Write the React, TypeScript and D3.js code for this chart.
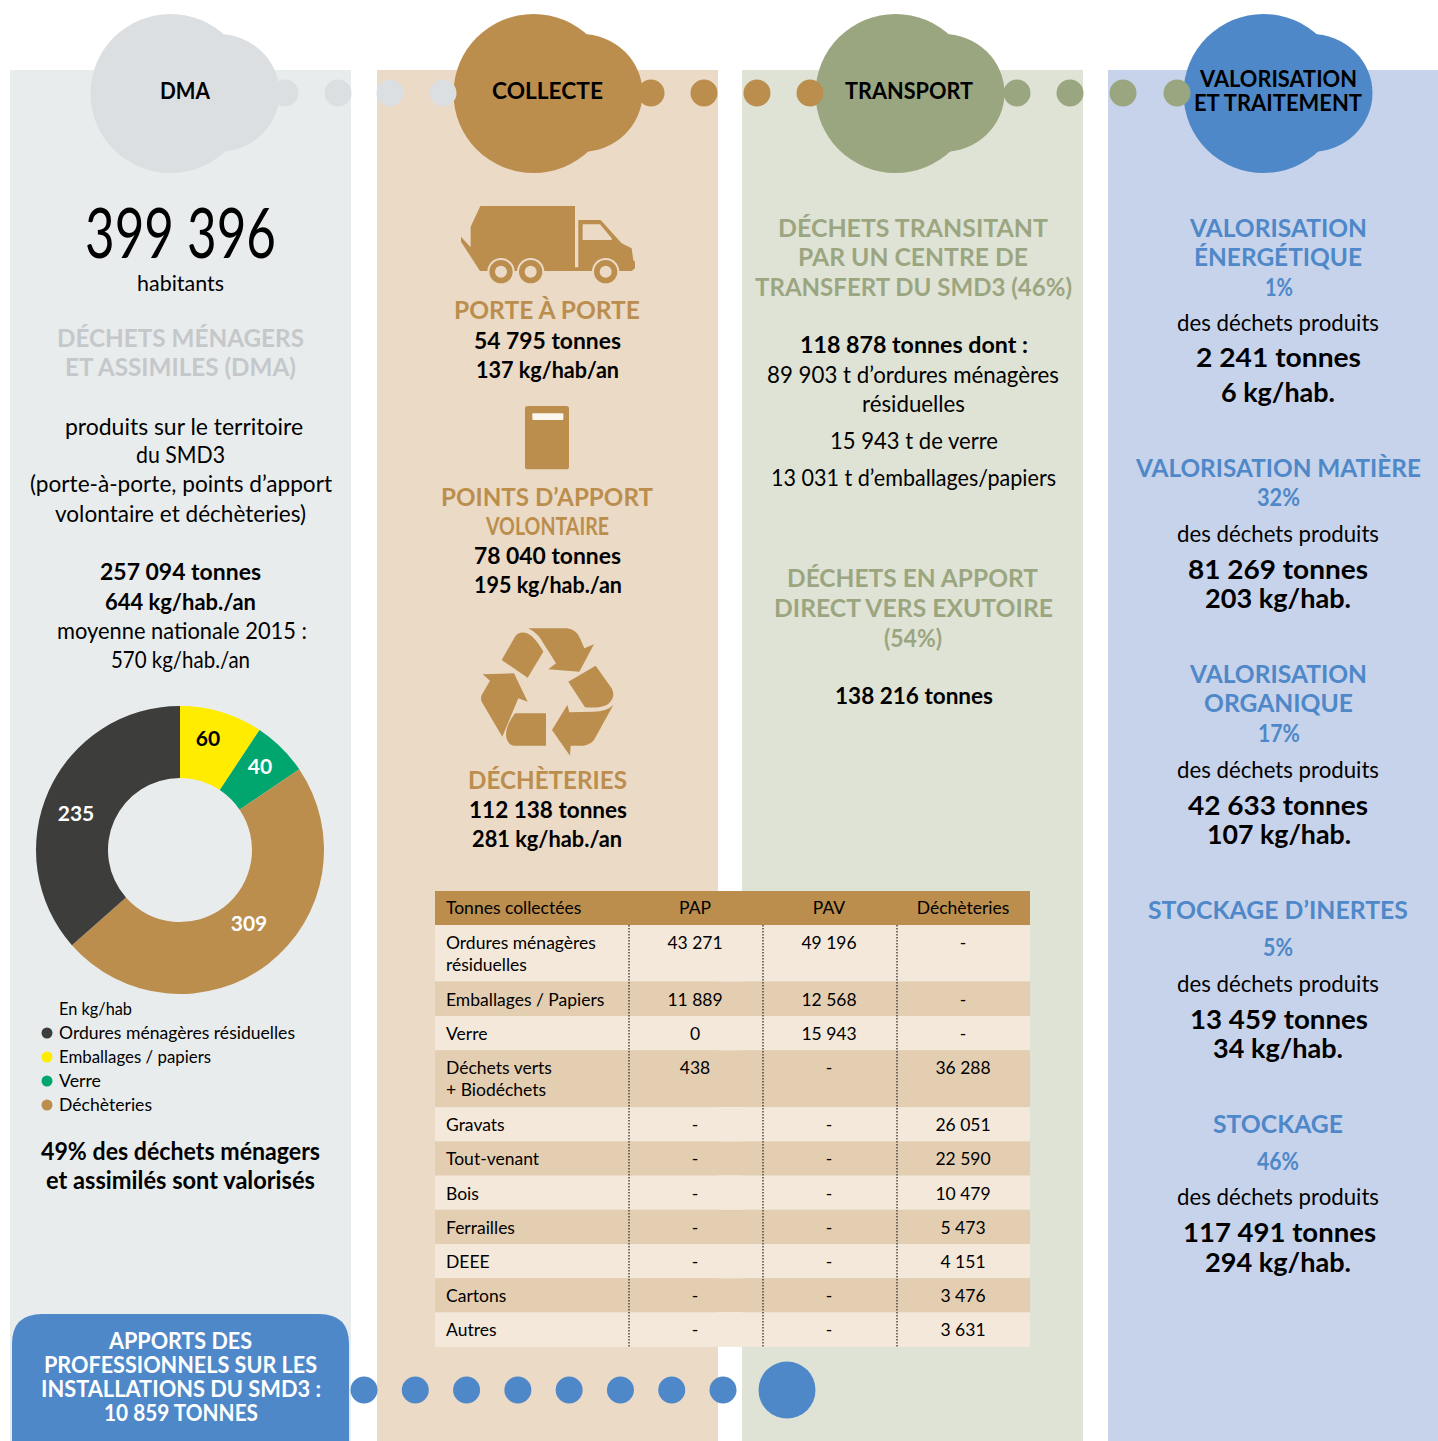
import React from "react";
import * as d3 from "d3";

// ---------- data ----------
const donutLabels = ["Emballages / papiers", "Verre", "Déchèteries", "Ordures ménagères résiduelles"];
const donutValues = [60, 40, 309, 235];
const donutColors = ["#ffec00", "#00a66e", "#bb8e4e", "#3d3d3b"];
const donutTextColors = ["#000", "#fff", "#fff", "#fff"];
const legendOrder = [3, 0, 1, 2];

const tableColumns = ["PAP", "PAV", "Déchèteries"];
const tableRows = [
  ["Ordures ménagères", "résiduelles"],
  ["Emballages / Papiers"],
  ["Verre"],
  ["Déchets verts", "+ Biodéchets"],
  ["Gravats"],
  ["Tout-venant"],
  ["Bois"],
  ["Ferrailles"],
  ["DEEE"],
  ["Cartons"],
  ["Autres"],
];
const papValues = ["43 271", "11 889", "0", "438", "-", "-", "-", "-", "-", "-", "-"];
const pavValues = ["49 196", "12 568", "15 943", "-", "-", "-", "-", "-", "-", "-", "-"];
const dechValues = ["-", "-", "-", "36 288", "26 051", "22 590", "10 479", "5 473", "4 151", "3 476", "3 631"];
const tableValues = [papValues, pavValues, dechValues];

const FONT = "Lato, 'Open Sans', sans-serif";
const GREY_T = "#c4c8ca";
const BROWN = "#bb8e4e";
const GREEN_T = "#9ba681";
const BLUE = "#4f88c8";

// ---------- layout helpers ----------
const panels = [
  { x: 10, w: 341, c: "#e9eced" },
  { x: 377, w: 341, c: "#ebdac6" },
  { x: 742, w: 341, c: "#dfe3d5" },
  { x: 1108, w: 330, c: "#c7d3eb" },
];
const blobs = [
  { dx: 0, c: "#dcdfe1", dots: [285, 338, 390, 443] },
  { dx: 363, c: BROWN, dots: [651, 704, 757, 810] },
  { dx: 725, c: "#9aa680", dots: [1017, 1070, 1123, 1177] },
  { dx: 1093, c: BLUE, dots: [] as number[] },
];
const bottomDotX = d3.scaleLinear().domain([0, 7]).range([364, 723]);

function L({ l, r, y, s = 23, b = 400, c = "#000", children }: any) {
  const dy = s === 25 || c === "#fff" ? 0.6 : 0;
  return (
    <text x={l} y={y + dy} fontSize={s} fontWeight={b} fill={c} textLength={r - l} lengthAdjust="spacingAndGlyphs" style={{ whiteSpace: "pre" }}>
      {children}
    </text>
  );
}

const truck =
  "M121,48 L405,48 L405,232 L415,232 L415,90 L482,90 L545,160 L575,175 L580,210 L585,215 L585,235 L575,243 L120,243 L63,155 L63,140 L92,172 L92,110 Z";
const recyclePieces = [
  "M125,150 L165,80 Q175,65 195,68 Q220,72 250,125 L203,203 Z",
  "M205,55 L320,55 Q350,58 360,85 L373,115 L402,103 L358,185 L265,178 L288,160 Q270,130 250,100 Q235,70 205,55 Z",
  "M325,215 L407,167 L455,235 Q470,265 440,285 Q420,295 375,292 Z",
  "M460,285 L405,385 Q395,405 370,407 L332,407 L330,437 L276,360 L322,285 L328,307 L400,305 Q440,305 460,285 Z",
  "M165,310 L258,310 L258,407 L165,407 Q140,405 138,375 Q138,345 165,310 Z",
  "M68,193 L162,190 L203,275 L175,265 L127,380 L65,275 Q60,262 68,250 L90,212 Z",
];

export default function App() {
  // donut
  const pie = d3.pie<number>().sort(null).value((d) => d)(donutValues);
  const arc = d3.arc<d3.PieArcDatum<number>>().innerRadius(72).outerRadius(144);
  const labelPos: [number, number][] = [
    [28, -113],
    [80, -85],
    [69, 72],
    [-104, -38],
  ];

  // table
  const rowH = [56.5, 34.5, 34.2, 57, 34.2, 34.2, 34.2, 34.2, 34.2, 34.2, 34.5];
  const tops = [925, ...(d3.cumsum(rowH) as any as number[]).map((v: number) => 925 + v)];
  const colX = d3.scalePoint<string>().domain(tableColumns).range([695, 963]);
  const seps = [629, 763, 897];

  return (
    <svg width={1438} height={1441} style={{ position: "absolute", left: 0, top: 0, display: "block" }} fontFamily={FONT}>
      <rect width={1438} height={1441} fill="#fff" />
      {panels.map((p, i) => (
        <rect key={i} x={p.x} y={70} width={p.w} height={1371} fill={p.c} />
      ))}

      {/* bubbles: the big shapes first, the trailing dots over them */}
      {blobs.map((b, i) => (
        <g key={i} fill={b.c}>
          <ellipse cx={170.5 + b.dx} cy={93.5} rx={80} ry={79.5} />
          <ellipse cx={218 + b.dx} cy={93} rx={61.5} ry={59} />
        </g>
      ))}
      {blobs.map((b, i) => (
        <g key={i} fill={b.c}>
          {b.dots.map((x) => (
            <circle key={x} cx={x} cy={93} r={13.5} />
          ))}
        </g>
      ))}
      <L l={160} r={210} y={99} s={22} b={700}>DMA</L>
      <L l={492} r={603} y={99} s={22} b={700}>COLLECTE</L>
      <L l={845} r={973} y={99} s={22} b={700}>TRANSPORT</L>
      <L l={1200} r={1357} y={87} s={22} b={700}>VALORISATION</L>
      <L l={1194} r={1362} y={111} s={22} b={700}>ET TRAITEMENT</L>

      {/* column 1 */}
      <L l={85} r={276} y={258} s={70} b={400}>399 396</L>
      <L l={137} r={224} y={291} s={22}>habitants</L>
      <L l={57} r={304} y={346} s={25} b={700} c={GREY_T}>DÉCHETS MÉNAGERS</L>
      <L l={65} r={296} y={375} s={25} b={700} c={GREY_T}>ET ASSIMILES (DMA)</L>
      <L l={65} r={303} y={435}>produits sur le territoire</L>
      <L l={136} r={225} y={463}>du SMD3</L>
      <L l={30} r={332} y={492}>(porte-à-porte, points d’apport</L>
      <L l={55} r={306} y={522}>volontaire et déchèteries)</L>
      <L l={100} r={261} y={580} b={700}>257 094 tonnes</L>
      <L l={105} r={256} y={610} b={700}>644 kg/hab./an</L>
      <L l={57} r={307} y={639}>moyenne nationale 2015 :</L>
      <L l={111} r={250} y={668}>570 kg/hab./an</L>

      <g transform="translate(180,850)">
        {pie.map((d, i) => (
          <path key={i} d={arc(d) as string} fill={donutColors[i]} />
        ))}
        {pie.map((d, i) => (
          <text key={i} x={labelPos[i][0]} y={labelPos[i][1]} textAnchor="middle" dominantBaseline="central" fontSize={21} fontWeight={700} fill={donutTextColors[i]}>
            {donutValues[i]}
          </text>
        ))}
      </g>

      <L l={59} r={132} y={1015} s={18}>En kg/hab</L>
      {legendOrder.map((k, i) => {
        const y = 1033 + i * 24;
        const right = [211, 101, 152, 295][k];
        return (
          <g key={k}>
            <circle cx={47} cy={y} r={5.5} fill={donutColors[k]} />
            <L l={59} r={right} y={y + 6} s={18}>{donutLabels[k]}</L>
          </g>
        );
      })}
      <L l={41} r={320} y={1160} s={24} b={700}>49% des déchets ménagers</L>
      <L l={46} r={315} y={1189} s={24} b={700}>et assimilés sont valorisés</L>

      {/* bottom pill */}
      <path d="M12,1441 L12,1344 Q12,1314 42,1314 L319,1314 Q349,1314 349,1344 L349,1441 Z" fill={BLUE} />
      {d3.range(8).map((i) => (
        <circle key={i} cx={bottomDotX(i)} cy={1390} r={13.5} fill={BLUE} />
      ))}
      <circle cx={787} cy={1390} r={28.5} fill={BLUE} />
      <L l={109} r={252} y={1348} s={22} b={700} c="#fff">APPORTS DES</L>
      <L l={44} r={317} y={1372} s={22} b={700} c="#fff">PROFESSIONNELS SUR LES</L>
      <L l={41} r={321} y={1396} s={22} b={700} c="#fff">INSTALLATIONS DU SMD3 :</L>
      <L l={104} r={258} y={1420} s={22} b={700} c="#fff">10 859 TONNES</L>

      {/* column 2 */}
      <g transform="translate(440,190) scale(0.3333)">
        <path d={truck} fill={BROWN} />
        <path d="M428,103 L480,103 L515,145 L515,150 L428,150 Z" fill="#ebdac6" />
        {[183, 272, 497].map((x) => (
          <g key={x}>
            <circle cx={x} cy={245} r={41} fill="#ebdac6" />
            <circle cx={x} cy={245} r={35} fill={BROWN} />
            <circle cx={x} cy={245} r={18} fill="#ebdac6" />
          </g>
        ))}
        <rect x={255} y={648} width={132} height={190} rx={8} fill={BROWN} />
        <rect x={277} y={670} width={93} height={20} rx={3} fill="#fbf6ee" />
      </g>
      <L l={454} r={640} y={318} s={25} b={700} c={BROWN}>PORTE À PORTE</L>
      <L l={474} r={621} y={348.6} b={700}>54 795 tonnes</L>
      <L l={476} r={619} y={377.6} b={700}>137 kg/hab/an</L>
      <L l={441} r={653} y={505} s={25} b={700} c={BROWN}>POINTS D’APPORT</L>
      <L l={486} r={609} y={534} s={25} b={700} c={BROWN}>VOLONTAIRE</L>
      <L l={474} r={621} y={564} b={700}>78 040 tonnes</L>
      <L l={474} r={622} y={593} b={700}>195 kg/hab./an</L>
      <g transform="translate(460,610) scale(0.3333)" fill={BROWN}>
        {recyclePieces.map((d, i) => (
          <path key={i} d={d} />
        ))}
      </g>
      <L l={468} r={627} y={788} s={25} b={700} c={BROWN}>DÉCHÈTERIES</L>
      <L l={469} r={627} y={818} b={700}>112 138 tonnes</L>
      <L l={472} r={622} y={847} b={700}>281 kg/hab./an</L>

      {/* column 3 */}
      <L l={778} r={1048} y={236} s={25} b={700} c={GREEN_T}>DÉCHETS TRANSITANT</L>
      <L l={798} r={1028} y={265} s={25} b={700} c={GREEN_T}>PAR UN CENTRE DE</L>
      <L l={755} r={1072} y={295} s={25} b={700} c={GREEN_T}>TRANSFERT DU SMD3 (46%)</L>
      <L l={800} r={1028} y={353} b={700}>118 878 tonnes dont :</L>
      <L l={767} r={1059} y={383}>89 903 t d’ordures ménagères</L>
      <L l={862} r={965} y={412}>résiduelles</L>
      <L l={830} r={998} y={449}>15 943 t de verre</L>
      <L l={771} r={1056} y={486}>13 031 t d’emballages/papiers</L>
      <L l={787} r={1038} y={586} s={25} b={700} c={GREEN_T}>DÉCHETS EN APPORT</L>
      <L l={774} r={1053} y={616} s={25} b={700} c={GREEN_T}>DIRECT VERS EXUTOIRE</L>
      <L l={884} r={942} y={646} s={25} b={700} c={GREEN_T}>(54%)</L>
      <L l={835} r={993} y={704} b={700}>138 216 tonnes</L>

      {/* column 4 */}
      <L l={1190} r={1367} y={236} s={25} b={700} c={BLUE}>VALORISATION</L>
      <L l={1194} r={1362} y={265} s={25} b={700} c={BLUE}>ÉNERGÉTIQUE</L>
      <L l={1265} r={1293} y={295} s={25} b={700} c={BLUE}>1%</L>
      <L l={1177} r={1379} y={331}>des déchets produits</L>
      <L l={1196} r={1361} y={367} s={27} b={700}>2 241 tonnes</L>
      <L l={1221} r={1335} y={402} s={27} b={700}>6 kg/hab.</L>

      <L l={1136} r={1421} y={476} s={25} b={700} c={BLUE}>VALORISATION MATIÈRE</L>
      <L l={1257} r={1300} y={505} s={25} b={700} c={BLUE}>32%</L>
      <L l={1177} r={1379} y={542}>des déchets produits</L>
      <L l={1188} r={1368} y={579} s={27} b={700}>81 269 tonnes</L>
      <L l={1205} r={1351} y={608} s={27} b={700}>203 kg/hab.</L>

      <L l={1190} r={1367} y={682} s={25} b={700} c={BLUE}>VALORISATION</L>
      <L l={1204} r={1353} y={711} s={25} b={700} c={BLUE}>ORGANIQUE</L>
      <L l={1258} r={1300} y={741} s={25} b={700} c={BLUE}>17%</L>
      <L l={1177} r={1379} y={778}>des déchets produits</L>
      <L l={1188} r={1368} y={815} s={27} b={700}>42 633 tonnes</L>
      <L l={1207} r={1351} y={844} s={27} b={700}>107 kg/hab.</L>

      <L l={1148} r={1408} y={918} s={25} b={700} c={BLUE}>STOCKAGE D’INERTES</L>
      <L l={1263} r={1293} y={955} s={25} b={700} c={BLUE}>5%</L>
      <L l={1177} r={1379} y={992}>des déchets produits</L>
      <L l={1190} r={1368} y={1029} s={27} b={700}>13 459 tonnes</L>
      <L l={1213} r={1343} y={1058} s={27} b={700}>34 kg/hab.</L>

      <L l={1213} r={1343} y={1132} s={25} b={700} c={BLUE}>STOCKAGE</L>
      <L l={1257} r={1299} y={1169} s={25} b={700} c={BLUE}>46%</L>
      <L l={1177} r={1379} y={1205}>des déchets produits</L>
      <L l={1183} r={1376} y={1242} s={27} b={700}>117 491 tonnes</L>
      <L l={1205} r={1351} y={1272} s={27} b={700}>294 kg/hab.</L>

      {/* table */}
      <rect x={435} y={891} width={595} height={34} fill={BROWN} />
      <text x={446} y={914} fontSize={17.5}>Tonnes collectées</text>
      {tableColumns.map((c) => (
        <text key={c} x={colX(c)} y={914} fontSize={17.5} textAnchor="middle">{c}</text>
      ))}
      {tableRows.map((lines, i) => (
        <g key={i}>
          <rect x={435} y={tops[i]} width={595} height={rowH[i]} fill={i % 2 === 0 ? "#f3e8da" : "#e4ceb1"} />
          {lines.map((t, j) => (
            <text key={j} x={446} y={tops[i] + 24 + j * 22} fontSize={17.5}>{t}</text>
          ))}
          {tableColumns.map((c, k) => (
            <text key={c} x={colX(c)} y={tops[i] + 24} fontSize={17.5} textAnchor="middle">{tableValues[k][i]}</text>
          ))}
        </g>
      ))}
      {seps.map((x) => (
        <line key={x} x1={x} x2={x} y1={925} y2={1347} stroke="#222" strokeWidth={1.2} strokeDasharray="1.5 1.5" />
      ))}
    </svg>
  );
}
